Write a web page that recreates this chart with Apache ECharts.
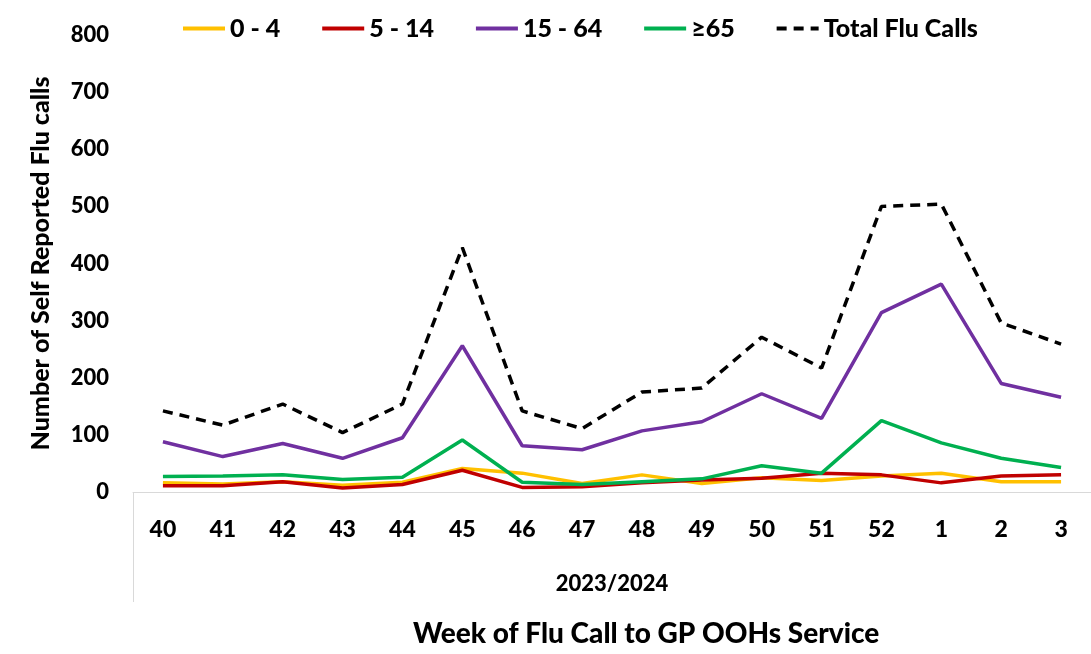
<!DOCTYPE html>
<html>
<head>
<meta charset="utf-8">
<script src="https://cdn.jsdelivr.net/npm/echarts@6/dist/echarts.min.js"></script>
<style>
  html, body { margin: 0; padding: 0; background: #fff; }
  #chart { width: 1091px; height: 654px; }
</style>
</head>
<body>
<div id="chart"></div>
<script>
const weeks = ['40', '41', '42', '43', '44', '45', '46', '47', '48', '49', '50', '51', '52', '1', '2', '3'];
const season = ['2023/2024'];

const age0to4 = [16, 14, 18, 12, 17, 41, 33, 15, 30, 15, 25, 20, 28, 33, 18, 18];
const age5to14 = [11, 11, 18, 7, 13, 38, 8, 9, 16, 21, 24, 33, 30, 16, 28, 30];
const age15to64 = [88, 62, 85, 59, 95, 256, 81, 74, 107, 123, 172, 129, 314, 364, 190, 166];
const age65plus = [27, 28, 30, 22, 26, 91, 17, 13, 18, 23, 46, 33, 125, 86, 59, 43];
const totalCalls = [142, 117, 154, 104, 154, 428, 142, 111, 175, 182, 271, 217, 500, 504, 296, 259];

const font = 'Lato';
const txt = { color: '#000', fontFamily: font, fontWeight: 900, fontSize: 22 };

const line = (name, data, color, type) => ({
  name,
  type: 'line',
  data,
  symbol: 'none',
  lineStyle: { color, width: 3.5, type: type || 'solid' },
  itemStyle: { color },
  animation: false,
});

const chart = echarts.init(document.getElementById('chart'));
chart.setOption({
  title: {
    text: 'Week of Flu Call to GP OOHs Service',
    left: 408,
    top: 615,
    textStyle: { ...txt, fontSize: 28 },
  },
  legend: {
    top: 11,
    left: 176,
    itemWidth: 42,
    itemHeight: 4,
    itemGap: 40,
    textStyle: { ...txt, fontSize: 25 },
    itemStyle: { opacity: 0 },
    lineStyle: { width: 4 },
    data: ['0 - 4', '5 - 14', '15 - 64', '≥65', 'Total Flu Calls'],
  },
  grid: { left: 133, top: 35, width: 969, bottom: 162 },
  xAxis: [
    {
      type: 'category',
      data: weeks,
      boundaryGap: true,
      axisLine: { lineStyle: { color: '#d9d9d9', width: 1 } },
      axisTick: { show: false },
      axisLabel: { ...txt, fontSize: 23, margin: 26, interval: 0 },
    },
    {
      type: 'category',
      data: season,
      position: 'bottom',
      boundaryGap: true,
      axisLine: { show: false },
      axisTick: { show: true, length: 110, interval: 0, lineStyle: { color: '#d9d9d9', width: 1 } },
      axisLabel: { ...txt, margin: 81 },
    },
  ],
  yAxis: {
    type: 'value',
    min: 0,
    max: 800,
    interval: 100,
    name: 'Number of Self Reported Flu calls',
    nameLocation: 'middle',
    nameGap: 80,
    nameTextStyle: { ...txt, fontSize: 25 },
    axisLine: { show: false },
    axisTick: { show: false },
    splitLine: { show: false },
    axisLabel: { ...txt, margin: 24 },
  },
  series: [
    line('0 - 4', age0to4, '#FFC000'),
    line('5 - 14', age5to14, '#C00000'),
    line('15 - 64', age15to64, '#7030A0'),
    line('≥65', age65plus, '#00B050'),
    line('Total Flu Calls', totalCalls, '#000000', [10, 7]),
  ],
});
</script>
</body>
</html>
